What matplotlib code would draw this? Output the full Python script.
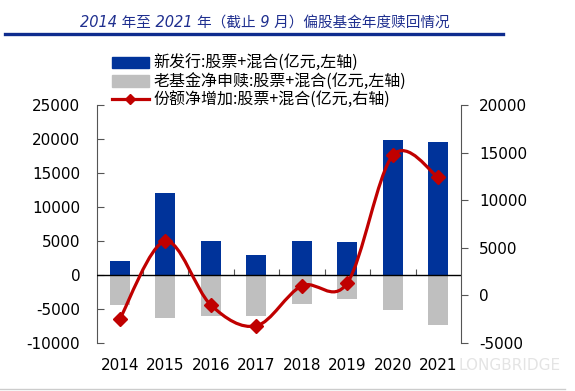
import numpy as np
import matplotlib
matplotlib.use("Agg")
import matplotlib.pyplot as plt
from matplotlib.path import Path
from matplotlib.patches import PathPatch, Patch
from matplotlib.lines import Line2D

plt.rcParams['font.family'] = ['DejaVu Sans', 'Noto Sans CJK SC']
plt.rcParams['axes.unicode_minus'] = False

# 数据（从图上读取，单位：亿元）
years = ['2014', '2015', '2016', '2017', '2018', '2019', '2020', '2021']
new_issue = [2000, 12000, 5000, 2900, 5000, 4900, 19800, 19600]
old_redeem = [-4400, -6300, -6000, -6100, -4200, -3600, -5200, -7300]
net_share = [-2500, 5700, -1000, -3200, 1000, 1300, 14700, 12400]

title = '2014 年至 2021 年（截止 9 月）偏股基金年度赎回情况'
lbl_new = '新发行:股票+混合(亿元,左轴)'
lbl_old = '老基金净申赎:股票+混合(亿元,左轴)'
lbl_net = '份额净增加:股票+混合(亿元,右轴)'

BLUE = '#00339A'
GRAY = '#BFBFBF'
RED = '#C00000'
AXC = '#555555'


def smooth_path(xs, ys):
    # Catmull-Rom 样式的平滑线（类似 Excel 的平滑曲线）
    pts = np.column_stack([xs, ys]).astype(float)
    n = len(pts)
    verts = [pts[0]]
    codes = [Path.MOVETO]
    for i in range(n - 1):
        p0 = pts[i - 1] if i > 0 else pts[i]
        p1, p2 = pts[i], pts[i + 1]
        p3 = pts[i + 2] if i + 2 < n else pts[i + 1]
        c1 = p1 + (p2 - p0) / 6.0
        c2 = p2 - (p3 - p1) / 6.0
        verts += [c1, c2, p2]
        codes += [Path.CURVE4] * 3
    return Path(verts, codes)


fig = plt.figure(figsize=(5.75, 3.91), dpi=100)

# 标题和下划线
fig.text(265 / 575, 1 - 22 / 391, title, ha='center', va='center',
         fontsize=10.5, style='italic', color='#1F2F8F',
         family=['DejaVu Sans', 'Noto Sans CJK SC'])
fig.add_artist(Line2D([5 / 575, 503 / 575], [1 - 34 / 391] * 2,
                      color='#0E2C8E', lw=2.4))
fig.add_artist(Line2D([0, 565 / 575], [1 - 389 / 391] * 2,
                      color='#CCCCCC', lw=1.0))

ax = fig.add_axes([97 / 575, 1 - 343 / 391, 364 / 575, 238 / 391])
x = np.arange(len(years))
w = 0.43
ax.bar(x, new_issue, width=w, color=BLUE, zorder=2)
ax.bar(x, old_redeem, width=w, color=GRAY, zorder=2)
ax.set_xlim(-0.5, len(years) - 0.5)
ax.set_ylim(-10000, 25000)
ax.set_yticks(range(-10000, 25001, 5000))
ax.axhline(0, color='black', lw=1.0, zorder=3)

for s in ['top', 'bottom']:
    ax.spines[s].set_visible(False)
ax.spines['left'].set_color(AXC)
ax.spines['right'].set_visible(False)
ax.tick_params(axis='y', direction='in', length=5, color=AXC, pad=12,
               labelsize=11)
ax.set_xticks(x)
ax.set_xticklabels(years)
ax.tick_params(axis='x', length=0, pad=11, labelsize=11)

# 零线上的分类分隔刻度
zero_frac = 10000 / 35000
sec = ax.secondary_xaxis(zero_frac)
sec.set_xticks(np.arange(0.5, len(years) - 0.5, 1.0))
sec.tick_params(direction='in', length=4, color=AXC, labelbottom=False,
                labeltop=False)
sec.spines['bottom'].set_visible(False)
sec.spines['top'].set_visible(False)

ax2 = ax.twinx()
ax2.set_ylim(-5000, 20000)
ax2.set_yticks(range(-5000, 20001, 5000))
for s in ['top', 'bottom', 'left']:
    ax2.spines[s].set_visible(False)
ax2.spines['right'].set_color(AXC)
ax2.tick_params(axis='y', direction='out', length=5, color=AXC, pad=8,
                labelsize=11)

ax2.add_patch(PathPatch(smooth_path(x, net_share), facecolor='none',
                        edgecolor=RED, lw=2.3, zorder=4))
ax2.plot(x, net_share, linestyle='none', marker='D', markersize=7.5,
         color=RED, zorder=5)

# 图例
handles = [
    Patch(facecolor=BLUE, edgecolor=BLUE),
    Patch(facecolor=GRAY, edgecolor=GRAY),
    Line2D([], [], color=RED, lw=2.3, marker='D', markersize=5),
]
fig.legend(handles, [lbl_new, lbl_old, lbl_net], loc='upper left',
           bbox_to_anchor=(112 / 575, 1 - 55 / 391), frameon=False,
           borderpad=0, borderaxespad=0, handlelength=2.3,
           handletextpad=0.3, labelspacing=0.08,
           prop={'family': ['Noto Sans CJK SC'], 'size': 11.5})

# 水印
fig.text(458 / 575, 1 - 366 / 391, 'LONGBRIDGE', ha='left', va='center',
         fontsize=11, color='#E4E4E4', zorder=0)

fig.savefig('out.png', dpi=100)
